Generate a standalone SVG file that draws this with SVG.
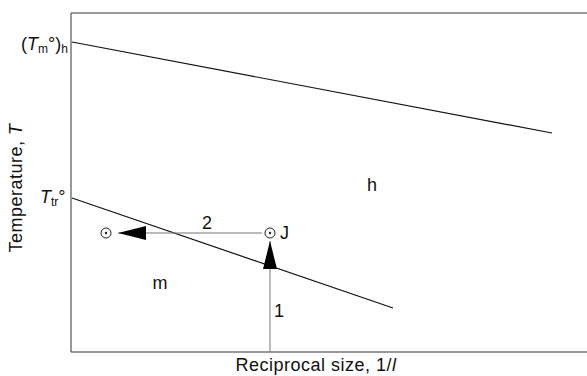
<svg xmlns="http://www.w3.org/2000/svg" width="587" height="376" viewBox="0 0 587 376">
<style>
text{font-family:"Liberation Sans",Arial,sans-serif;fill:#111;font-size:18px}
.lab{letter-spacing:0.5px}
.ax{fill:none;stroke:#333;stroke-width:1}
.ln{fill:none;stroke:#111;stroke-width:1.2}
.ar{fill:none;stroke:#777;stroke-width:1}
.pt{fill:#fff;stroke:#222;stroke-width:1}
.sub{font-size:12px}
</style>
<defs>
<marker id="ah" markerWidth="28" markerHeight="14" refX="28" refY="7" orient="auto" markerUnits="userSpaceOnUse">
<path d="M0,0 L28,7 L0,14 Z" fill="#000"/>
</marker>
</defs>
<rect width="587" height="376" fill="#fff"/>
<g id="axes">
<path class="ax" d="M587,13 H71 V352 H587"/>
<text class="lab" x="316" y="371" text-anchor="middle">Reciprocal size, 1/<tspan font-style="italic">l</tspan></text>
<text class="lab" transform="translate(22,188) rotate(-90)" text-anchor="middle">Temperature, <tspan font-style="italic">T</tspan></text>
</g>
<g id="line-h">
<line class="ln" x1="72" y1="42" x2="552" y2="133"/>
<text x="21" y="50">(<tspan font-style="italic">T</tspan><tspan class="sub" dy="3">m</tspan><tspan dy="-3">°)</tspan><tspan class="sub" dy="3">h</tspan></text>
</g>
<g id="line-tr">
<line class="ln" x1="72" y1="198" x2="393" y2="308"/>
<text x="40" y="203"><tspan font-style="italic">T</tspan><tspan class="sub" dy="3">tr</tspan><tspan dy="-3">°</tspan></text>
</g>
<g id="labels">
<text x="372" y="191" text-anchor="middle">h</text>
<text x="160" y="289" text-anchor="middle">m</text>
</g>
<g id="connectors">
<line class="ar" x1="262" y1="233" x2="118" y2="233" marker-end="url(#ah)"/>
<text x="207" y="229" text-anchor="middle">2</text>
<line class="ar" x1="270" y1="352" x2="270" y2="241" marker-end="url(#ah)"/>
<text x="279" y="317" text-anchor="middle">1</text>
</g>
<g id="point-J">
<circle class="pt" cx="270" cy="233" r="5"/>
<circle cx="270" cy="233" r="1.2" fill="#222"/>
<text x="280" y="239">J</text>
</g>
<g id="point-end">
<circle class="pt" cx="106" cy="233" r="5"/>
<circle cx="106" cy="233" r="1.2" fill="#222"/>
</g>
</svg>
